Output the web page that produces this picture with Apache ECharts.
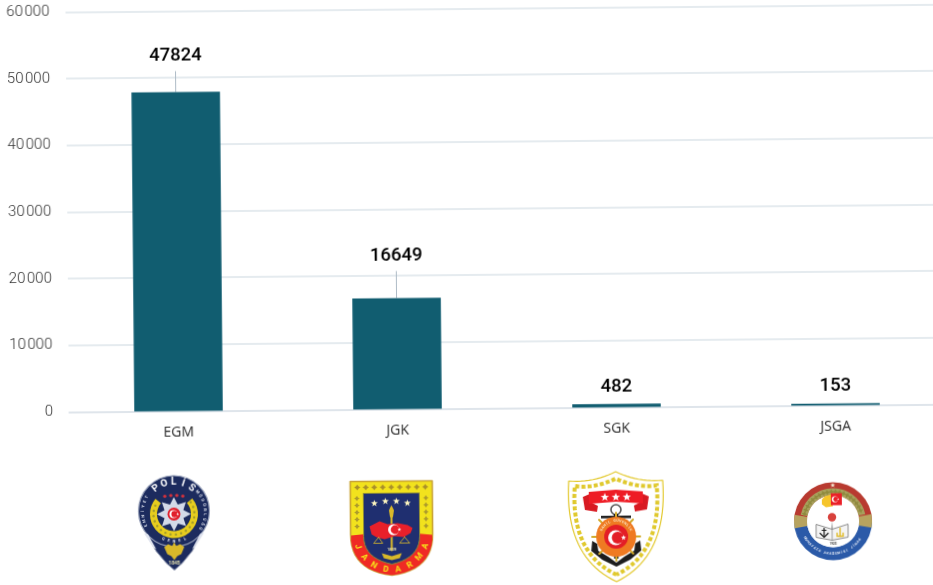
<!DOCTYPE html>
<html><head><meta charset="utf-8">
<script src="https://cdn.jsdelivr.net/npm/echarts@6/dist/echarts.min.js"></script>
<style>
html,body{margin:0;padding:0;background:#fff;overflow:hidden;width:933px;height:585px}
#c{position:absolute;left:-20px;top:-20px;width:973px;height:625px;transform:rotate(-0.51deg);transform-origin:50% 50%}
</style></head><body><div id="c"></div>
<script>
const categories = ['EGM', 'JGK', 'SGK', 'JSGA'];
const values = [47824, 16649, 482, 153];
const yTicks = [0, 10000, 20000, 30000, 40000, 50000, 60000];

const TEAL = '#115d70', GRID = '#dde4ea';
const labelLift = [15, 21, 0, 0];
const leader = [true, true, false, false];

// --- emblem drawing helpers (decoration only) ---
const circle = (cx, cy, r, fill, stroke, lw) => ({type:'circle', shape:{cx,cy,r}, style:{fill:fill||'none', stroke:stroke||'none', lineWidth:lw||0}});
const poly = (points, fill, stroke, lw) => ({type:'polygon', shape:{points}, style:{fill:fill||'none', stroke:stroke||'none', lineWidth:lw||0, lineJoin:'round'}});
const line = (points, stroke, lw, dash) => ({type:'polyline', shape:{points}, style:{fill:'none', stroke, lineWidth:lw, lineDash:dash||null, lineCap:dash?'butt':'round'}});
const rect = (x, y, width, height, fill) => ({type:'rect', shape:{x,y,width,height}, style:{fill}});
const sector = (cx, cy, r0, r, a0, a1, fill) => ({type:'sector', shape:{cx,cy,r0,r,startAngle:a0*Math.PI/180,endAngle:a1*Math.PI/180}, style:{fill}});
function star(cx, cy, R, fill, n, inner, rot) {
  n = n||5; inner = inner||0.42; rot = rot===undefined?-90:rot; const p=[];
  for (let i=0;i<n*2;i++){const a=(rot+i*180/n)*Math.PI/180,r=i%2?R*inner:R;p.push([cx+r*Math.cos(a),cy+r*Math.sin(a)]);}
  return poly(p,fill);
}
function txt(s, x, y, font, fill, rot) {
  return {type:'text', x, y, rotation:rot||0, style:{text:s, font, fill, align:'center', verticalAlign:'middle'}};
}
function arcText(s, cx, cy, r, a0, step, font, fill, bottom) {
  return Array.from(s).map((ch,i)=>{
    const a=(a0+i*step)*Math.PI/180, x=cx+r*Math.cos(a), y=cy+r*Math.sin(a);
    const rot = bottom ? -(a-Math.PI/2) : -(a+Math.PI/2);
    return txt(ch,x,y,font,fill,rot);
  });
}
function bez(p0,p1,p2,n){const o=[];for(let i=0;i<=n;i++){const t=i/n,u=1-t;o.push([u*u*p0[0]+2*u*t*p1[0]+t*t*p2[0],u*u*p0[1]+2*u*t*p1[1]+t*t*p2[1]]);}return o;}
function crescent(cx,cy,r,bg,light){
  return [circle(cx,cy,r,light||'#fff'),circle(cx+r*0.28,cy,r*0.8,bg),star(cx+r*1.05,cy,r*0.36,light||'#fff',5,0.42,-90)];
}
const group = (x,y,children)=>({type:'group',x:x+20,y:y+20,silent:true,children});

function police(){
  const navy='#1c2b5e', k=[];
  const tail=[[-29,-3],[-26,12],[-18,26],[-8,38],[0,45],[8,38],[18,26],[26,12],[29,-3]];
  k.push(poly(tail,navy,'#8b94ad',1));
  k.push(circle(0,-14,35.5,navy,'#9aa3bb',1.2));
  k.push(sector(0,-11,17,24,-40,220,'#e7cd1e'));
  for(let a=-35;a<=215;a+=15){const r=a*Math.PI/180;k.push(circle(20.5*Math.cos(r),-11+20.5*Math.sin(r),1.2,'#a39c2a'));}
  k.push(star(0,-11,17,'#d3dae8',8,0.6,-90));
  k.push(circle(0,-11,6.5,'#e11f2b'));
  k.push(...crescent(-0.5,-11,4,'#e11f2b'));
  [-9,-3,3,9].forEach(x=>k.push(circle(x,-30+Math.abs(x)*0.12,1.7,'#d3313c')));
  k.push(...arcText('POLİS',0,-13,30,-127,18.5,'bold 10px Roboto','#fff'));
  k.push(...arcText('EMNİYET',0,-13,31,-205,9,'bold 4px Roboto','#dfe3ee'));
  k.push(...arcText('MÜDÜRLÜĞÜ',0,-13,31,-40,9,'bold 4px Roboto','#dfe3ee'));
  k.push(...arcText('GENEL',0,-13,29,112,-11,'bold 4px Roboto','#dfe3ee',true));
  k.push(poly([[-10,22],[-6,19],[-2,21],[0,17],[2,21],[6,19],[10,22],[7,29],[3,31],[0,35],[-3,31],[-7,29]],'#d9b92a'));
  k.push(txt('1845',0,38,'bold 5px Roboto','#e8e3b0'));
  k.push(poly([[-30,8],[-26,9],[-18,24],[-21,22]],'#dfe3ee'),poly([[30,8],[26,9],[18,24],[21,22]],'#dfe3ee'));
  return group(172,522.5,k);
}

function jandarma(){
  const yel='#f2e21d', red='#ef2a24', navy='#1f2f70', k=[];
  const left=bez([-41,6],[-41,42],[0,47],12);
  const shield=[[-41,-47],[41,-47],...left.map(p=>[-p[0],p[1]]),...left.slice(0,-1).reverse()];
  k.push(poly(shield,yel,'#c9a435',1.6));
  const redP=[[-40.5,7],[-20,5],[0,15],[20,5],[40.5,7],...left.slice(1).map(p=>[-p[0],p[1]]),...left.slice(1,-1).reverse()];
  k.push(poly(redP,red));
  const inL=bez([-28,8],[-28,30],[0,36],10);
  const inner=[[-28,-35],[28,-35],...inL.map(p=>[-p[0],p[1]]),...inL.slice(0,-1).reverse()];
  k.push(poly(inner,navy,'#8c8a3a',1));
  for(let x=-34;x<=34;x+=8.5){k.push(star(x,-41,3.1,'#a98f2a',4,0.55));}
  for(let y=-30;y<=-1;y+=7){k.push(star(-34.5,y,2.8,'#ad9b2c',4,0.55));k.push(star(34.5,y,2.8,'#ad9b2c',4,0.55));}
  [[-17,-25],[-6,-27],[5,-27],[16,-25]].forEach(p=>k.push(star(p[0],p[1],3.6,'#fdf6c0')));
  k.push(line([[0,-20],[0,22]],'#d9b92a',2));
  k.push(poly([[-2.5,-18],[0,-23],[2.5,-18],[1.5,-11],[-1.5,-11]],'#d9b92a'));
  k.push(poly([[-22,-2],[-12,-7],[-4,-4],[6,-5],[16,-3],[21,0],[19,5],[12,9],[3,8],[-7,11],[-15,9],[-20,6]],'#e8202a'));
  k.push(...crescent(2,1.5,5.5,'#e8202a'));
  k.push(line([[-13,9],[-18,15],[-9,15],[-13,9]],'#d9b92a',0.8),line([[13,9],[8,15],[18,15],[13,9]],'#d9b92a',0.8));
  k.push(txt('1839',0,21,'bold 4px Roboto','#e8e3b0'));
  k.push(poly([[-10,25],[0,28],[10,25],[8,30],[0,32],[-8,30]],'#d9b92a'));
  k.push(...arcText('JANDARMA',0,6,36,160,-20,'bold 8.5px Roboto','#f7e21a',true));
  return group(389.5,527.5,k);
}

function coast(){
  const k=[];
  const L=[...bez([0,-55],[-22,-44],[-47,-46],12),...bez([-47,-46],[-52,30],[0,55],22).slice(1)];
  const shield=[...L,...L.slice(0,-1).reverse().map(p=>[-p[0],p[1]])];
  k.push(poly(shield,'#fff','#e3c92f',1.2));
  const RL=[...bez([0,-48],[-22,-38],[-41,-41],12),...bez([-41,-41],[-46,26],[0,48],22).slice(1)];
  k.push(line([...RL.slice().reverse(),...RL.slice(1).map(p=>[-p[0],p[1]])],'#e0c92e',4,[4,2.2]));
  k.push(poly([[-33,-30],[-26,-33],[-24,-24],[-18,-21],[-19,-15],[-31,-17]],'#d81a22'));
  k.push(poly([[33,-30],[26,-33],[24,-24],[18,-21],[19,-15],[31,-17]],'#d81a22'));
  k.push(poly([[-27,-35],[0,-37],[27,-35],[27,-23],[0,-25],[-27,-23]],'#ee1c25'));
  [-11,0,11].forEach(x=>k.push(star(x,-29.5,4.4,'#fff')));
  k.push(circle(0,-17,5,'none','#555',1.6));
  k.push(rect(-15,-11,30,2.6,'#222'));
  k.push(rect(-2.2,-13,4.4,45,'#222'));
  k.push(poly([[-24,14],[-19,17],[-18,24],[-8,30],[0,36],[8,30],[18,24],[19,17],[24,14],[25,24],[14,33],[0,40],[-14,33],[-25,24]],'#1d1d1d'));
  for(let a=0;a<360;a+=45){const r=a*Math.PI/180;k.push(line([[0,10],[24*Math.cos(r),10+24*Math.sin(r)]],'#d2aa2a',2));}
  k.push(circle(0,10,20,'#ef7a22'));
  k.push(circle(0,10,12,'#e31e26'));
  k.push(...arcText('SAHİL GÜVENLİK',0,10,16,-155,10,'bold 3.6px Roboto','#fbe3c0'));
  k.push(...crescent(-0.5,11,7.5,'#e31e26'));
  return group(614,528,k);
}

function jsga(){
  const k=[];
  k.push(sector(0,0,26,39,180,360,'#b83a30'));
  k.push(sector(0,0,26,39,0,180,'#2b5aa8'));
  k.push(sector(0,0,26,33,192,348,'#a89f5c'));
  for(let a=195;a<=345;a+=8){const r=a*Math.PI/180;k.push(star(29.5*Math.cos(r),29.5*Math.sin(r),2.8,'#8f8a3e',4,0.5,a));}
  k.push(sector(0,0,26,39,170,190,'#b7a35f'),sector(0,0,26,39,-10,10,'#b7a35f'));
  k.push(star(0,-36,2.6,'#f3e6cf'));
  k.push(circle(0,0,26,'#fff'));
  k.push(...arcText('MUHAFAZA AKADEMİSİ JİNAK',0,0,32.5,150,-5,'bold 3.4px Roboto','#e8eef8',true));
  k.push(poly([[-8,-25],[-1,-27],[0,-15],[-7,-14],[-11,-17],[-11,-22]],'#f6c52b'));
  k.push(rect(-2,-28,11,12,'#ea2028'));
  k.push(...crescent(2,-22,3.1,'#ea2028'));
  k.push(circle(-1,-4,4.2,'#d8413c'));
  k.push(poly([[-1,0],[-2.2,11],[0.2,11]],'#999'));
  k.push(poly([[-17,3],[-1,8],[15,3],[15,16],[-1,19],[-17,16]],'#f4f4f4','#8d8d8d',1));
  k.push(line([[-1,8],[-1,19]],'#8d8d8d',0.8));
  k.push(line([[-9,7],[-9,15]],'#1d1d1d',1.2),line([[-13,12],[-9,16],[-5,12]],'#1d1d1d',1.2),line([[-11,9],[-7,9]],'#1d1d1d',1));
  k.push(line([[7,7],[7,15],[4,15],[4,12]],'#e0bb2a',1.4),line([[7,15],[10,15],[10,12]],'#e0bb2a',1.4));
  k.push(txt('1923',0,23,'bold 3px Roboto','#333'));
  return group(831,524.5,k);
}

const chart = echarts.init(document.getElementById('c'), null, {renderer:'canvas'});
chart.setOption({
  animation:false,
  backgroundColor:'#fff',
  grid:{left:88,top:28.4,width:876,height:400},
  xAxis:{type:'category',data:categories,
    axisLine:{lineStyle:{color:GRID,width:1.5}},axisTick:{show:false},
    axisLabel:{margin:15,fontFamily:'Open Sans',fontSize:14,color:'#2a2a2a'}},
  yAxis:{type:'value',min:yTicks[0],max:yTicks[yTicks.length-1],interval:yTicks[1]-yTicks[0],
    axisLine:{show:false},axisTick:{show:false},
    splitLine:{lineStyle:{color:GRID,width:1.5}},
    axisLabel:{margin:16,fontFamily:'Roboto',fontWeight:300,fontSize:15,color:'#333',padding:[0,0,4,0],
      formatter:v=>String(v).replace(/(\d)(\d{3})$/,'$1\u200a$2')}},
  series:[{type:'bar',barWidth:88.5,barMinHeight:1.6,itemStyle:{color:TEAL},
    data:values.map((v,i)=>({value:v,labelLine:{show:leader[i]},label:{lineHeight:leader[i]?31:22}})),
    label:{show:true,position:'top',distance:6,fontFamily:'Roboto',fontWeight:500,fontSize:18.5,color:'#000'},
    labelLine:{show:true,lineStyle:{color:'#aebbc6',width:1}},
    labelLayout:p=>({dy:-labelLift[p.dataIndex]})
  }],
  graphic:{elements:[police(),jandarma(),coast(),jsga()]}
});
</script></body></html>
